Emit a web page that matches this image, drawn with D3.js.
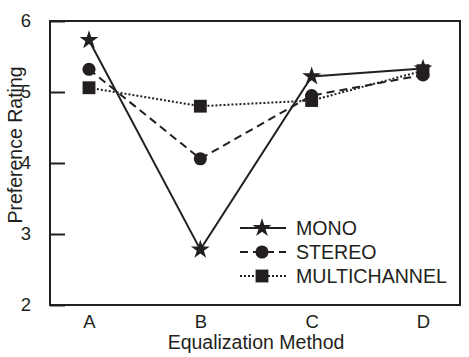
<!DOCTYPE html>
<html>
<head>
<meta charset="utf-8">
<script src="https://cdn.jsdelivr.net/npm/d3@7"></script>
<style>
html,body{margin:0;padding:0;background:#fff;}
svg{display:block;}
text{font-family:"Liberation Sans",Arial,sans-serif;fill:#231f20;}
</style>
</head>
<body>
<svg id="chart" width="469" height="357"></svg>
<script>
const categories = ["A","B","C","D"];
const mono = [5.73, 2.78, 5.22, 5.33];
const stereo = [5.32, 4.06, 4.95, 5.24];
const multichannel = [5.06, 4.80, 4.88, 5.30];
const yTicks = [2,3,4,5,6];
const seriesNames = ["MONO","STEREO","MULTICHANNEL"];

const ink = "#231f20";
const svg = d3.select("#chart");
const mLeft = 50, mRight = 460, mTop = 21, mBottom = 305;

const x = d3.scalePoint().domain(categories).range([89, 423]);
const y = d3.scaleLinear().domain([2,6]).range([mBottom, mTop]);

// y ticks (inward)
const yAxis = d3.axisRight(y).tickValues(yTicks).tickSize(15).tickPadding(-34).tickFormat(d3.format("d"));
const ga = svg.append("g").attr("transform",`translate(${mLeft},0)`).call(yAxis);
ga.select(".domain").remove();
ga.selectAll("line").attr("stroke",ink).attr("stroke-width",2);
ga.selectAll("text").attr("font-size",18.5).attr("text-anchor","middle").attr("dx",-5).style("fill",ink);

// x labels
const xAxis = d3.axisBottom(x).tickSize(0).tickPadding(10);
const gx = svg.append("g").attr("transform",`translate(0,${mBottom})`).call(xAxis);
gx.select(".domain").remove();
gx.selectAll("text").attr("font-size",18.5).style("fill",ink);

// frame
svg.append("rect").attr("x",mLeft).attr("y",mTop).attr("width",mRight-mLeft).attr("height",mBottom-mTop)
  .attr("fill","none").attr("stroke",ink).attr("stroke-width",2);

// titles
svg.append("text").attr("x",256).attr("y",349).attr("text-anchor","middle").attr("font-size",19.5).text("Equalization Method");
svg.append("text").attr("transform","translate(22,145) rotate(-90)").attr("text-anchor","middle").attr("font-size",19.5).text("Preference Rating");

const series = [
  {name:seriesNames[0], values:mono, dash:null, sym:d3.symbolStar, size:110},
  {name:seriesNames[1], values:stereo, dash:"8,5", sym:d3.symbolCircle, size:135},
  {name:seriesNames[2], values:multichannel, dash:"2,2", sym:d3.symbolSquare, size:165}
];

const line = d3.line().x((d,i)=>x(categories[i])).y(d=>y(d));

series.slice().reverse().forEach(s=>{
  svg.append("path").datum(s.values).attr("d",line).attr("fill","none")
    .attr("stroke",ink).attr("stroke-width",2).attr("stroke-dasharray",s.dash);
});
series.slice().reverse().forEach(s=>{
  svg.append("g").selectAll("path").data(s.values).join("path")
    .attr("d",d3.symbol(s.sym,s.size))
    .attr("transform",(d,i)=>`translate(${x(categories[i])},${y(d)})`)
    .attr("fill",ink);
});

// legend
const lg = svg.append("g");
series.forEach((s,i)=>{
  const yy = 228 + i*24;
  lg.append("line").attr("x1",240).attr("x2",286).attr("y1",yy).attr("y2",yy)
    .attr("stroke",ink).attr("stroke-width",2).attr("stroke-dasharray",s.dash);
  lg.append("path").attr("d",d3.symbol(s.sym,s.size)).attr("transform",`translate(262,${yy})`).attr("fill",ink);
  lg.append("text").attr("x",296).attr("y",yy+7).attr("font-size",19.6).text(s.name);
});
</script>
</body>
</html>
